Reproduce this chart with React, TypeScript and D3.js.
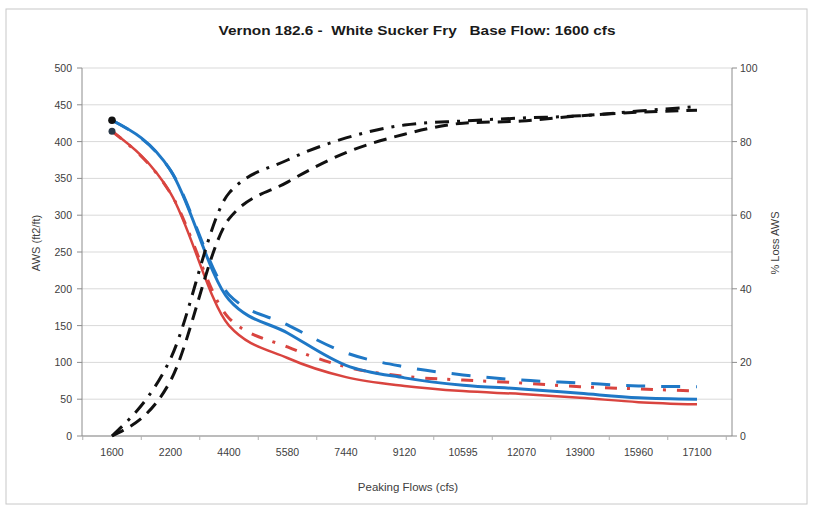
import React from "react";
import * as d3 from "d3";

const categories = ["1600", "2200", "4400", "5580", "7440", "9120", "10595", "12070", "13900", "15960", "17100"];
const awsBlueSolid = [429, 361, 185, 140, 96, 79, 69, 64, 58, 52, 50];
const awsBlueDashed = [429, 361, 192, 151, 113, 94, 83, 76, 72, 68, 67];
const awsRedSolid = [414, 330, 150, 106, 80, 68, 61, 57, 52, 46, 43];
const awsRedDashDot = [414, 330, 160, 121, 94, 81, 76, 72, 67, 64, 61];
const lossDashed = [0, 15, 59, 69, 77, 82, 85, 85.6, 87, 88, 88.5];
const lossDashDot = [0, 21, 66, 75, 81, 84.5, 85.6, 86.4, 87, 88.3, 89.5];
const leftTicks = [0, 50, 100, 150, 200, 250, 300, 350, 400, 450, 500];
const rightTicks = [0, 20, 40, 60, 80, 100];

const W = 818;
const H = 507;
const plotL = 82;
const plotR = 732;
const plotT = 68;
const plotB = 436;
const font = "Liberation Sans, Arial, sans-serif";

export default function App() {
  const x = d3.scalePoint<string>().domain(categories).range([112, 697]);
  const yL = d3.scaleLinear().domain([0, 500]).range([plotB, plotT]);
  const yR = d3.scaleLinear().domain([0, 100]).range([plotB, plotT]);

  const lineL = d3
    .line<number>()
    .x((_, i) => x(categories[i]) as number)
    .y((d) => yL(d))
    .curve(d3.curveMonotoneX);
  const lineR = d3
    .line<number>()
    .x((_, i) => x(categories[i]) as number)
    .y((d) => yR(d))
    .curve(d3.curveMonotoneX);

  const step = x.step();
  const boundaries = d3.range(categories.length + 1).map((i) => (x(categories[0]) as number) - step / 2 + i * step);

  return (
    <svg
      width={W}
      height={H}
      style={{ position: "absolute", left: 0, top: 0, background: "#fff" }}
      fontFamily={font}
    >
      <rect x={0} y={0} width={W} height={H} fill="#fff" />
      <rect x={6} y={9} width={801} height={495} fill="none" stroke="#c8c8c8" strokeWidth={1} />

      <text
        x={417}
        y={35}
        textAnchor="middle"
        fontSize={13}
        fontWeight="bold"
        fill="#1a1a1a"
        style={{ whiteSpace: "pre" }}
        textLength={397}
        lengthAdjust="spacingAndGlyphs"
      >
        {"Vernon 182.6 -  White Sucker Fry   Base Flow: 1600 cfs"}
      </text>

      {leftTicks.map((t) => (
        <line key={"g" + t} x1={plotL} x2={plotR} y1={yL(t)} y2={yL(t)} stroke="#d9d9d9" strokeWidth={1} />
      ))}

      <line x1={plotL} x2={plotL} y1={plotT} y2={plotB} stroke="#8c8c8c" />
      <line x1={plotR} x2={plotR} y1={plotT} y2={plotB} stroke="#8c8c8c" />
      <line x1={plotL} x2={plotR} y1={plotB} y2={plotB} stroke="#8c8c8c" />

      {leftTicks.map((t) => (
        <g key={"l" + t}>
          <line x1={plotL - 5} x2={plotL} y1={yL(t)} y2={yL(t)} stroke="#8c8c8c" />
          <text x={72} y={yL(t) + 4} textAnchor="end" fontSize={10.5} fill="#404040">
            {t}
          </text>
        </g>
      ))}
      {rightTicks.map((t) => (
        <g key={"r" + t}>
          <line x1={plotR} x2={plotR + 5} y1={yR(t)} y2={yR(t)} stroke="#8c8c8c" />
          <text x={740} y={yR(t) + 4} textAnchor="start" fontSize={10.5} fill="#404040">
            {t}
          </text>
        </g>
      ))}
      {boundaries.map((b, i) => (
        <line key={"b" + i} x1={b} x2={b} y1={plotB} y2={plotB + 4} stroke="#b0b0b0" />
      ))}
      {categories.map((c) => (
        <text key={"c" + c} x={x(c) as number} y={456} textAnchor="middle" fontSize={10.5} fill="#404040">
          {c}
        </text>
      ))}

      <text
        transform="translate(40,243) rotate(-90)"
        textAnchor="middle"
        fontSize={11}
        fill="#404040"
      >
        AWS (ft2/ft)
      </text>
      <text
        transform="translate(779,243) rotate(-90)"
        textAnchor="middle"
        fontSize={11}
        fill="#404040"
      >
        % Loss AWS
      </text>
      <text x={408} y={491} textAnchor="middle" fontSize={11.5} fill="#404040">
        Peaking Flows (cfs)
      </text>

      <path d={lineL(awsRedDashDot) || ""} fill="none" stroke="#d9443f" strokeWidth={3} strokeDasharray="12 10 3 11" />
      <path d={lineL(awsBlueDashed) || ""} fill="none" stroke="#1f78c6" strokeWidth={3} strokeDasharray="19 16" />
      <path d={lineL(awsRedSolid) || ""} fill="none" stroke="#d9443f" strokeWidth={2.5} />
      <path d={lineL(awsBlueSolid) || ""} fill="none" stroke="#1f78c6" strokeWidth={3} />
      <path d={lineR(lossDashed) || ""} fill="none" stroke="#111" strokeWidth={3} strokeDasharray="13 8" />
      <path d={lineR(lossDashDot) || ""} fill="none" stroke="#111" strokeWidth={3} strokeDasharray="14 8 3 8" />

      <circle cx={x(categories[0]) as number} cy={yL(awsBlueSolid[0])} r={3.8} fill="#111" />
      <circle cx={x(categories[0]) as number} cy={yL(awsRedSolid[0])} r={3.5} fill="#2b3a4a" />
    </svg>
  );
}
